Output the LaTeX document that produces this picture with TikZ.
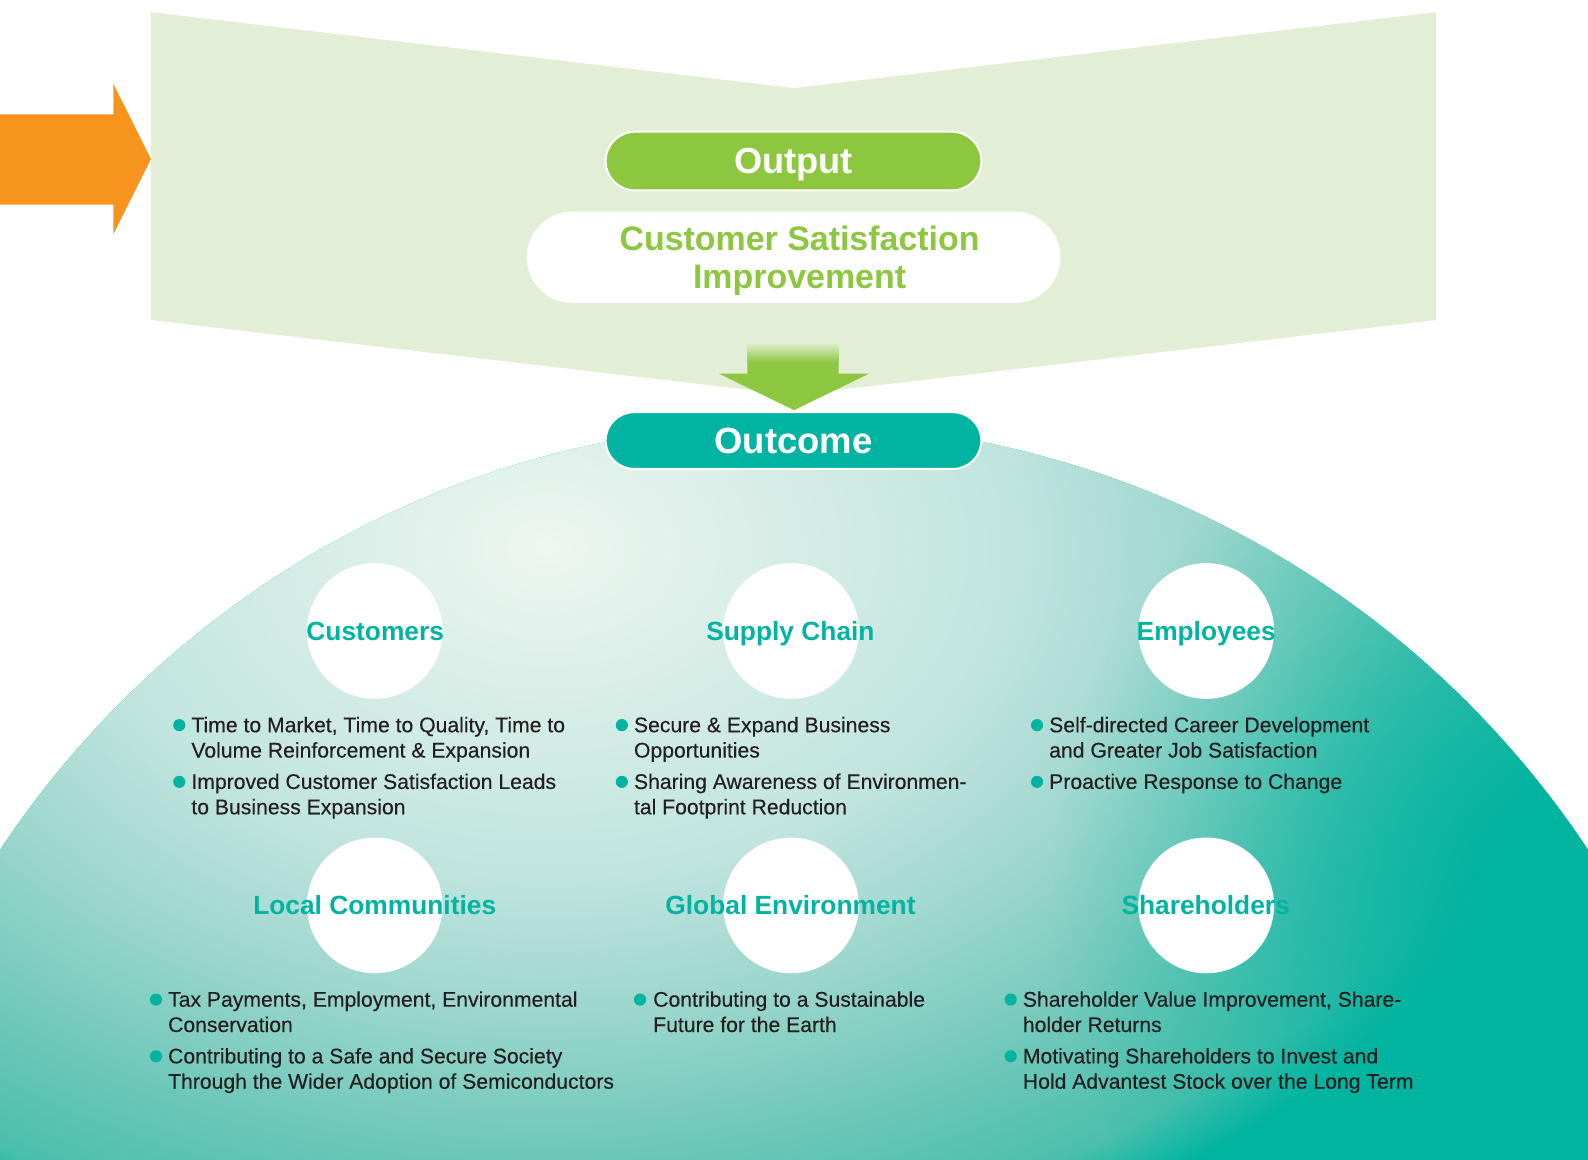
\documentclass[tikz,border=0pt]{standalone}
\usepackage{fontspec}
\setmainfont{Liberation Sans}
\newfontfamily\bodyfont{Liberation Sans}[FakeBold=0.3]
\usetikzlibrary{fadings}
\definecolor{pentc}{HTML}{E2EFD6}
\definecolor{orangec}{HTML}{F7941E}
\definecolor{greenc}{HTML}{8DC63F}
\definecolor{tealc}{HTML}{00B4A1}
\definecolor{textc}{HTML}{231F20}
\definecolor{dA}{HTML}{EEF6F1}
\definecolor{dB}{HTML}{D5EDE6}
\definecolor{dC}{HTML}{C1E4DF}
\definecolor{dD}{HTML}{9BD6CC}
\definecolor{dE}{HTML}{6CC7B8}
\definecolor{dF}{HTML}{4CBFAE}
\definecolor{dG}{HTML}{00B4A0}
\pgfdeclareradialshading{domeshade}{\pgfpoint{0bp}{0bp}}{color(0bp)=(dA); color(5.5bp)=(dB); color(10.5bp)=(dC); color(15bp)=(dD); color(19.5bp)=(dE); color(22.7bp)=(dF); color(24.5bp)=(dG); color(50bp)=(dG)}
\pgfdeclareradialshading{glowshade}{\pgfpoint{0bp}{0bp}}{color(0bp)=(white); color(4.8bp)=(white!95!black); color(12bp)=(white!60!black); color(18.3bp)=(white!25!black); color(25bp)=(black); color(50bp)=(black)}
\pgfdeclarefading{tealglow}{\pgfuseshading{glowshade}}
\begin{document}
\begin{tikzpicture}[x=1pt,y=-1pt,
  every node/.style={inner sep=0pt,outer sep=0pt},
  pillbox/.style={rectangle, rounded corners=#1, draw=white, line width=2pt},
  headtxt/.style={text=white, font=\bfseries\fontsize{35.8}{40}\selectfont, text height=25.6pt, text depth=0pt},
  whitedisc/.style={circle, fill=white, minimum size=134pt},
  disclabel/.style={text=tealc, font=\bfseries\fontsize{26}{30}\selectfont, text height=18.6pt, text depth=0pt},
  itemtxt/.style={anchor=base west, text=textc, font=\bodyfont\fontsize{20.9}{24.5}\selectfont},
  bul/.style={circle, fill=tealc, minimum size=12pt}]
\useasboundingbox (0,0) rectangle (1568,1145);
\begin{scope}
\clip (0,0) rectangle (1568,1145);
% light green funnel
\fill[pentc] (149,12) -- (784,87) -- (1418,12) -- (1418,316) -- (784,390) -- (149,316) -- cycle;
% orange arrow
\fill[orangec] (0,113) -- (112,113) -- (112,83) -- (149,157) -- (112,231) -- (112,202) -- (0,202) -- cycle;
% dome
\begin{scope}
\clip (784,1358) circle (940);
\fill[dG] (0,0) rectangle (1568,1145);
\shade[shading=domeshade] (-560,-230) rectangle (1640,1310);
\fill[dG, path fading=tealglow] (1560,880) circle (520);
\end{scope}
\end{scope}
% pills
\node[pillbox=29pt, fill=greenc, minimum width=371pt, minimum height=58pt, headtxt] (output) at (783.5,159) {Output};
\node[rectangle, rounded corners=45pt, fill=white, minimum width=527pt, minimum height=90pt] (csbox) at (783.5,254) {};
\node[align=center, text=greenc, font=\bfseries\fontsize{33.5}{37}\selectfont] (cstext) at (789.5,257.5) {Customer Satisfaction\\Improvement};
% green down arrow
\coordinate (ga) at (784,405);
\fill[greenc] (738,338) -- (828,338) -- (828,369) -- (858,369) -- (ga) -- (710,369) -- (738,369) -- cycle;
\shade[top color=pentc, bottom color=greenc] (738,338) rectangle (828,358);
\node[pillbox=28pt, fill=tealc, minimum width=371pt, minimum height=56pt, headtxt, font=\bfseries\fontsize{36}{40}\selectfont, text height=25.8pt] (outcome) at (783.5,435) {Outcome};
% discs
\node[whitedisc] (d1) at (370,623) {};
\node[whitedisc] (d2) at (781,623) {};
\node[whitedisc] (d3) at (1191,623) {};
\node[whitedisc] (d4) at (370,894) {};
\node[whitedisc] (d5) at (781,894) {};
\node[whitedisc] (d6) at (1191,894) {};
\node[disclabel] (l1) at (370.5,623) {Customers};
\node[disclabel] (l2) at (780.5,623) {Supply Chain};
\node[disclabel] (l3) at (1191,623) {Employees};
\node[disclabel] (l4) at (370,894) {Local Communities};
\node[disclabel] (l5) at (780.5,894) {Global Environment};
\node[disclabel] (l6) at (1190.5,894) {Shareholders};
% Customers
\node[bul] (b11) at (177,716) {};
\node[itemtxt] (t11a) at (189,723) {Time to Market, Time to Quality, Time to};
\node[itemtxt] (t11b) at (189,748) {Volume Reinforcement \& Expansion};
\node[bul] (b12) at (177,772) {};
\node[itemtxt] (t12a) at (189,779) {Improved Customer Satisfaction Leads};
\node[itemtxt] (t12b) at (189,804) {to Business Expansion};
% Supply chain
\node[bul] (b21) at (614,716) {};
\node[itemtxt] (t21a) at (626,723) {Secure \& Expand Business};
\node[itemtxt] (t21b) at (626,748) {Opportunities};
\node[bul] (b22) at (614,772) {};
\node[itemtxt] (t22a) at (626,779) {Sharing Awareness of Environmen-};
\node[itemtxt] (t22b) at (626,804) {tal Footprint Reduction};
% Employees
\node[bul] (b31) at (1024,716) {};
\node[itemtxt] (t31a) at (1036,723) {Self-directed Career Development};
\node[itemtxt] (t31b) at (1036,748) {and Greater Job Satisfaction};
\node[bul] (b32) at (1024,772) {};
\node[itemtxt] (t32a) at (1036,779) {Proactive Response to Change};
% Local communities
\node[bul] (b41) at (154,987) {};
\node[itemtxt] (t41a) at (166,994) {Tax Payments, Employment, Environmental};
\node[itemtxt] (t41b) at (166,1019) {Conservation};
\node[bul] (b42) at (154,1043) {};
\node[itemtxt] (t42a) at (166,1050) {Contributing to a Safe and Secure Society};
\node[itemtxt] (t42b) at (166,1075) {Through the Wider Adoption of Semiconductors};
% Global environment
\node[bul] (b51) at (632,987) {};
\node[itemtxt] (t51a) at (645,994) {Contributing to a Sustainable};
\node[itemtxt] (t51b) at (645,1019) {Future for the Earth};
% Shareholders
\node[bul] (b61) at (998,987) {};
\node[itemtxt] (t61a) at (1010,994) {Shareholder Value Improvement, Share-};
\node[itemtxt] (t61b) at (1010,1019) {holder Returns};
\node[bul] (b62) at (998,1043) {};
\node[itemtxt] (t62a) at (1010,1050) {Motivating Shareholders to Invest and};
\node[itemtxt] (t62b) at (1010,1075) {Hold Advantest Stock over the Long Term};
\end{tikzpicture}
\end{document}
